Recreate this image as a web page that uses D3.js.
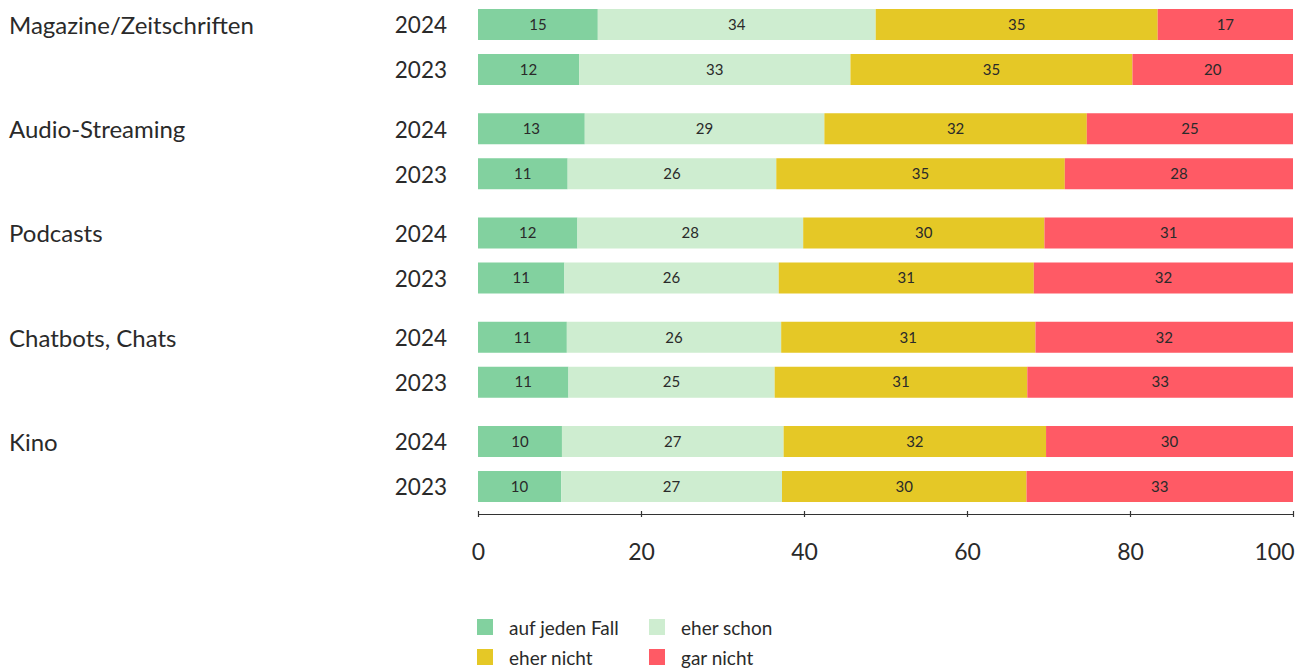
<!DOCTYPE html>
<html>
<head>
<meta charset="utf-8">
<script src="https://cdn.jsdelivr.net/npm/d3@7"></script>
<style>
  html, body { margin: 0; padding: 0; background: #fff; }
  svg { display: block; font-family: Lato, "Open Sans", sans-serif; }
</style>
</head>
<body>
<svg id="chart" width="1307" height="671"></svg>
<script>
const categories = ["Magazine/Zeitschriften", "Audio-Streaming", "Podcasts", "Chatbots, Chats", "Kino"];
const years = ["2024", "2023"];
const seriesNames = ["auf jeden Fall", "eher schon", "eher nicht", "gar nicht"];
const seriesColors = ["#82D19F", "#CEEDD0", "#E5C826", "#FF5A65"];

// values per category, per year: [auf jeden Fall, eher schon, eher nicht, gar nicht]
const magazine = { "2024": [14.7, 34.1, 34.6, 16.6], "2023": [12.4, 33.3, 34.6, 19.7] };
const audio    = { "2024": [13.1, 29.4, 32.2, 25.3], "2023": [11.0, 25.6, 35.4, 28.0] };
const podcasts = { "2024": [12.2, 27.7, 29.6, 30.5], "2023": [10.6, 26.3, 31.3, 31.8] };
const chatbots = { "2024": [10.9, 26.3, 31.2, 31.6], "2023": [11.1, 25.3, 31.0, 32.6] };
const kino     = { "2024": [10.3, 27.2, 32.2, 30.3], "2023": [10.2, 27.1, 30.0, 32.7] };
const valuesByCategory = [magazine, audio, podcasts, chatbots, kino];
const xTicks = [0, 20, 40, 60, 80, 100];

const svg = d3.select("#chart");
const textColor = "#2a2a2a";

const x = d3.scaleLinear().domain([0, 100]).range([478, 1293]);
const yGroup = d3.scaleBand().domain(categories).range([9, 502]).paddingInner(0.271).paddingOuter(0);
const yYear = d3.scaleBand().domain(years).range([0, yGroup.bandwidth()]).paddingInner(0.311).paddingOuter(0);
const color = d3.scaleOrdinal().domain(seriesNames).range(seriesColors);

// Build rows
const rows = [];
categories.forEach((cat, ci) => {
  years.forEach(yr => {
    const vals = valuesByCategory[ci][yr];
    let acc = 0;
    const segs = vals.map((v, si) => {
      const s = { series: seriesNames[si], x0: acc, x1: acc + v, value: v };
      acc += v;
      return s;
    });
    rows.push({ cat, yr, segs, y: yGroup(cat) + yYear(yr) });
  });
});

const bh = yYear.bandwidth();

const rowG = svg.append("g").selectAll("g.row").data(rows).join("g")
  .attr("class", "row")
  .attr("transform", d => `translate(0,${d.y})`);

rowG.selectAll("rect").data(d => d.segs).join("rect")
  .attr("x", d => x(d.x0))
  .attr("width", d => x(d.x1) - x(d.x0))
  .attr("y", 0)
  .attr("height", bh)
  .attr("fill", d => color(d.series));

rowG.selectAll("text.val").data(d => d.segs).join("text")
  .attr("class", "val")
  .attr("x", d => (x(d.x0) + x(d.x1)) / 2)
  .attr("y", bh / 2)
  .attr("dy", "0.35em")
  .attr("text-anchor", "middle")
  .attr("font-size", 15)
  .attr("fill", textColor)
  .text(d => Math.round(d.value));

// Year labels
rowG.append("text")
  .attr("x", 447)
  .attr("y", bh / 2 + 1)
  .attr("dy", "0.35em")
  .attr("text-anchor", "end")
  .attr("font-size", 22.5)
  .attr("fill", textColor)
  .text(d => d.yr);

// Category labels
svg.append("g").selectAll("text").data(categories).join("text")
  .attr("x", 9)
  .attr("y", d => yGroup(d) + yYear(years[0]) + bh / 2 + 1)
  .attr("dy", "0.35em")
  .attr("font-size", 24)
  .attr("fill", textColor)
  .text(d => d);

// X axis
const axis = d3.axisBottom(x).tickValues(xTicks).tickSize(0).tickPadding(0).tickFormat(d3.format("d"));
const axG = svg.append("g").attr("transform", "translate(0,514)").call(axis);
axG.select(".domain").attr("stroke", "#333").attr("stroke-width", 1.2);
axG.selectAll(".tick line").remove();
axG.selectAll(".tick").append("line")
  .attr("y1", -3).attr("y2", 3)
  .attr("stroke", "#333").attr("stroke-width", 1.2);
axG.selectAll(".tick text")
  .attr("y", 46)
  .attr("dy", "0")
  .attr("font-size", 23)
  .attr("font-family", "Lato, 'Open Sans', sans-serif")
  .attr("fill", textColor)
  .attr("text-anchor", d => d === 100 ? "end" : "middle")
  .attr("x", d => d === 100 ? 1 : 0);

// Legend
const legendPos = [[477, 619], [649, 619], [477, 649], [649, 649]];
const lg = svg.append("g").selectAll("g").data(seriesNames).join("g")
  .attr("transform", (d, i) => `translate(${legendPos[i][0]},${legendPos[i][1]})`);
lg.append("rect").attr("width", 16).attr("height", 16).attr("fill", d => color(d));
lg.append("text")
  .attr("x", 32).attr("y", 9).attr("dy", "0.35em")
  .attr("font-size", 19)
  .attr("fill", textColor)
  .text(d => d);
</script>
</body>
</html>
